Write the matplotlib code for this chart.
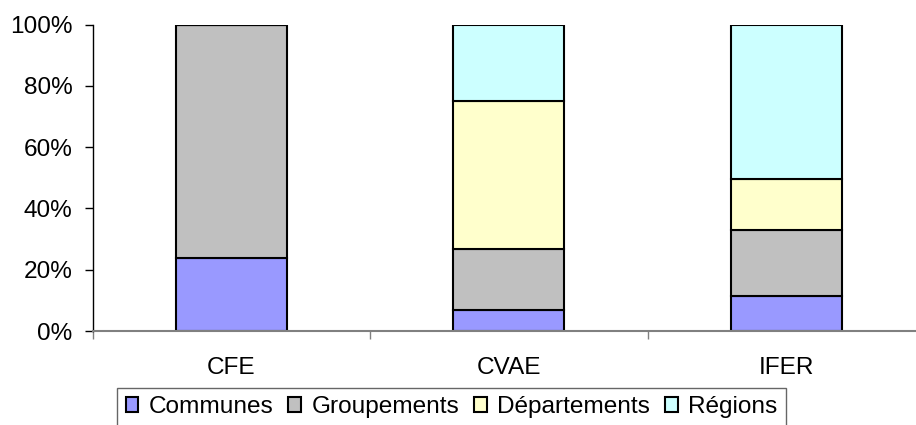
import numpy as np
import matplotlib.pyplot as plt
from matplotlib.ticker import FixedLocator

plt.rcParams['font.family'] = ['Liberation Sans', 'DejaVu Sans']

categories = ["CFE", "CVAE", "IFER"]
series_names = ["Communes", "Groupements", "Départements", "Régions"]
communes = [23.7, 6.9, 11.4]
groupements = [76.3, 19.9, 21.7]
departements = [0.0, 48.3, 16.5]
regions = [0.0, 24.9, 50.4]
colors = ["#9999FF", "#C0C0C0", "#FFFFCC", "#CCFFFF"]

fig = plt.figure(figsize=(9.16, 4.25), dpi=100)
ax = fig.add_axes([92.5/916, 1 - 331/425, 832.5/916, 306.5/425])

x = np.arange(len(categories))
bottom = np.zeros(len(categories))
for name, vals, c in zip(series_names, [communes, groupements, departements, regions], colors):
  vals = np.array(vals)
  ax.bar(x, vals, width=0.4, bottom=bottom, color=c, edgecolor="black",
         linewidth=1.5, label=name, zorder=3)
  bottom += vals

ax.set_xlim(-0.5, 2.5)
ax.set_ylim(0, 100)
ax.set_yticks([0, 20, 40, 60, 80, 100])
ax.set_yticklabels(["0%", "20%", "40%", "60%", "80%", "100%"])
ax.set_xticks(x)
ax.set_xticklabels(categories)
ax.xaxis.set_minor_locator(FixedLocator([-0.5, 0.5, 1.5, 2.5]))

ax.tick_params(axis="y", length=6, width=1, color="black", pad=8.5, labelsize=17.6)
ax.tick_params(axis="x", which="major", length=0, pad=19, labelsize=17.6)
ax.tick_params(axis="x", which="minor", length=6, width=1, color="#808080")

for s in ["top", "right"]:
  ax.spines[s].set_visible(False)
ax.spines["left"].set_color("black")
ax.spines["left"].set_linewidth(1)
ax.spines["bottom"].set_color("#808080")
ax.spines["bottom"].set_linewidth(1.5)
ax.spines["bottom"].set_zorder(4)

leg = fig.legend(loc="upper left", bbox_to_anchor=(117/916, 1 - 387.7/425),
                 borderaxespad=0, ncol=4, fontsize=17.6, frameon=True, fancybox=False,
                 handlelength=0.52, handleheight=0.52, handletextpad=0.42,
                 columnspacing=0.62, borderpad=0.35)
leg.get_frame().set_edgecolor("#404040")
leg.get_frame().set_linewidth(1)
for h in leg.legend_handles:
  h.set_linewidth(1.5)
  h.set_edgecolor("black")

fig.savefig("out.png", dpi=100)
